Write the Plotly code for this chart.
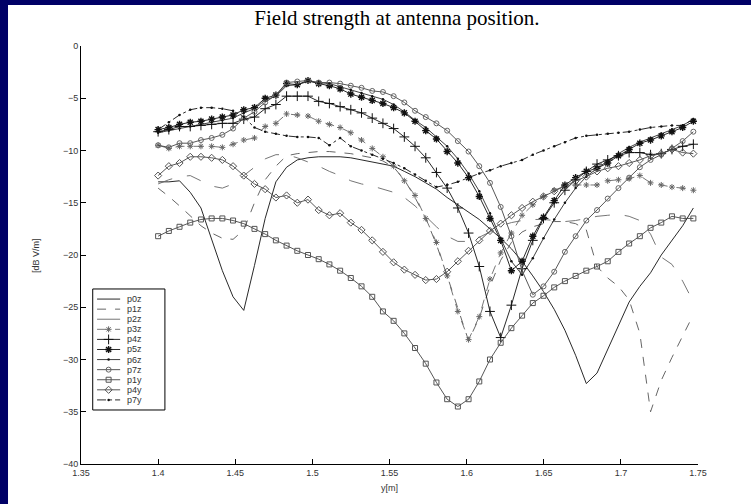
import numpy as np
import plotly.graph_objects as go

# x grid (51 samples of antenna position y[m])
x = np.linspace(1.4, 1.747, 51)

p0z = [-13.0, -13.0, -12.9, -14.0, -15.5, -18.5, -21.5, -24.0, -25.3, -21.0,
       -16.5, -13.0, -11.6, -10.9, -10.7, -10.6, -10.6, -10.6, -10.7, -10.9,
       -11.1, -11.3, -11.5, -12.0, -12.5, -13.1, -13.7, -14.5, -15.2, -15.9,
       -16.6, -17.5, -18.4, -19.4, -20.6, -22.0, -23.5, -25.2, -27.2, -29.6,
       -32.3, -31.3, -29.0, -26.7, -24.5, -23.0, -21.7, -20.0, -18.6, -17.2, -15.5]
p1z = [-13.6, -14.4, -15.3, -16.3, -17.2, -17.9, -18.4, -18.5, -17.6, -15.0,
       -12.8, -11.5, -10.5, -10.3, -10.2, -10.1, -10.1, -10.2, -10.3, -10.5,
       -10.7, -11.0, -11.6, -12.8, -14.5, -16.5, -19.0, -22.0, -25.0, -28.2,
       -26.0, -23.0, -20.5, -18.8, -17.8, -17.3, -17.0, -16.8, -16.8, -17.0,
       -17.6, -21.1, -22.2, -23.0, -24.3, -27.5, -35.0, -32.0, -29.8, -27.8, -25.7]
p2z = [-13.2, -12.8, -12.5, -12.4, -12.9, -13.4, -13.6, -13.2, -12.4, -11.6,
       -10.8, -10.4, -10.4, -10.7, -11.1, -11.5, -12.0, -12.4, -12.9, -13.2,
       -13.4, -13.7, -14.0, -14.5, -15.3, -16.3, -17.3, -18.2, -18.7, -18.7,
       -18.3, -17.8, -17.2, -16.9, -16.7, -16.6, -16.6, -16.7, -16.8, -16.7,
       -16.5, -16.3, -16.2, -16.1, -16.3, -16.7, -18.0, -20.2, -20.9, -22.5, -24.5]
p3z = [-9.5, -9.8, -9.6, -9.6, -9.6, -9.6, -9.7, -9.4, -9.0, -8.8,
       -7.7, -7.4, -6.5, -6.6, -6.7, -7.2, -7.5, -7.8, -8.3, -9.0,
       -9.8, -10.6, -11.5, -12.9, -14.3, -16.5, -18.8, -22.0, -25.4, -28.1,
       -25.9, -22.3, -19.8, -17.9, -16.2, -15.2, -14.4, -13.8, -13.4, -13.3,
       -13.3, -13.3, -12.9, -12.8, -12.7, -12.4, -13.1, -13.3, -13.5, -13.6, -13.8]
p4z = [-8.2, -8.0, -7.7, -7.7, -7.6, -7.5, -7.4, -7.4, -7.0, -6.8,
       -6.0, -5.6, -4.8, -4.8, -4.8, -5.3, -5.5, -5.8, -6.1, -6.4,
       -6.9, -7.4, -7.9, -8.7, -9.6, -10.7, -12.1, -13.6, -15.5, -17.9,
       -21.1, -25.4, -27.9, -24.8, -21.3, -18.6, -16.5, -15.0, -13.8, -12.8,
       -12.0, -11.3, -10.9, -10.5, -10.2, -10.2, -10.4, -10.3, -9.9, -9.6, -9.4]
p5z = [-8.0, -7.8, -7.5, -7.3, -7.2, -7.0, -6.8, -6.6, -6.1, -5.9,
       -5.0, -4.7, -3.6, -3.7, -3.3, -3.6, -3.8, -4.1, -4.6, -4.9,
       -5.2, -5.5, -5.9, -6.4, -7.2, -8.1, -8.9, -10.1, -11.2, -12.6,
       -14.4, -16.5, -18.6, -21.5, -20.6, -18.2, -16.4, -14.8, -13.3, -12.6,
       -12.0, -11.7, -11.2, -10.5, -9.9, -9.3, -9.0, -8.6, -8.2, -7.8, -7.2]
p6z = [-8.3, -8.1, -7.9, -7.7, -7.5, -7.3, -7.1, -6.9, -6.4, -6.0,
       -5.2, -4.8, -3.8, -3.7, -3.4, -3.5, -3.6, -3.9, -4.2, -4.5,
       -4.8, -5.1, -5.6, -6.3, -7.1, -7.8, -8.7, -9.6, -10.8, -12.2,
       -13.9, -16.0, -18.4, -20.6, -21.9, -20.3, -18.4, -16.6, -15.0, -13.6,
       -12.5, -11.7, -11.0, -10.3, -9.7, -9.2, -8.8, -8.4, -8.0, -7.6, -7.0]
p7z = [-9.5, -9.7, -9.3, -9.3, -9.0, -8.8, -8.5, -7.9, -6.9, -6.3,
       -5.4, -4.7, -3.5, -3.4, -3.3, -3.5, -3.5, -3.6, -3.8, -4.0,
       -4.3, -4.4, -4.8, -5.4, -6.2, -6.8, -7.4, -8.1, -9.1, -10.1,
       -11.5, -13.1, -15.4, -18.2, -21.5, -23.8, -23.0, -21.6, -19.7, -18.2,
       -16.7, -15.7, -14.6, -13.6, -12.6, -11.6, -10.9, -10.4, -9.8, -9.1, -8.2]
p1y = [-18.2, -17.7, -17.3, -16.9, -16.6, -16.5, -16.5, -16.7, -17.0, -17.5,
       -18.0, -18.6, -19.1, -19.6, -20.0, -20.4, -20.9, -21.5, -22.2, -23.0,
       -24.0, -25.4, -26.3, -27.5, -28.9, -30.4, -32.2, -33.8, -34.5, -33.8,
       -32.1, -30.0, -28.4, -27.0, -25.8, -24.6, -23.9, -23.1, -22.5, -22.0,
       -21.5, -21.1, -20.6, -19.7, -18.9, -18.2, -17.4, -16.9, -16.3, -16.5, -16.5]
p4y = [-12.4, -11.5, -11.2, -10.6, -10.6, -10.7, -10.9, -11.5, -12.4, -13.2,
       -13.7, -14.5, -14.3, -15.0, -14.7, -15.7, -16.2, -16.0, -16.9, -17.6,
       -18.6, -19.7, -20.7, -21.4, -21.9, -22.4, -22.3, -21.6, -20.6, -19.6,
       -18.6, -17.7, -17.0, -16.2, -15.5, -14.9, -14.4, -13.9, -13.4, -12.9,
       -12.5, -12.0, -11.7, -11.5, -11.2, -10.9, -10.5, -10.3, -9.9, -10.2, -10.3]
p7y = [-8.0, -7.3, -6.6, -6.1, -5.9, -5.9, -6.0, -6.2, -6.8, -7.8,
       -8.2, -8.4, -8.6, -8.7, -8.7, -8.8, -9.5, -8.8, -9.6, -10.0,
       -10.4, -10.8, -11.2, -11.7, -12.3, -12.9, -13.5, -13.3, -13.0, -12.6,
       -12.2, -11.9, -11.5, -11.2, -10.9, -10.4, -10.0, -9.6, -9.2, -8.8,
       -8.6, -8.5, -8.4, -8.3, -8.2, -8.0, -7.8, -7.7, -7.6, -7.6, -7.0]

names = ["p0z", "p1z", "p2z", "p3z", "p4z", "p5z", "p6z", "p7z", "p1y", "p4y", "p7y"]
values = [p0z, p1z, p2z, p3z, p4z, p5z, p6z, p7z, p1y, p4y, p7y]

# style per series: (line color, dash, width, marker symbol, marker size, marker color, marker line width)
styles = {
    "p0z": ("#111111", "solid", 0.9, None, 0, None, 0),
    "p1z": ("#555555", "dash", 0.9, None, 0, None, 0),
    "p2z": ("#666666", "longdash", 0.9, None, 0, None, 0),
    "p3z": ("#666666", "dash", 0.9, "asterisk-open", 5, "#666666", 1.0),
    "p4z": ("#111111", "solid", 0.9, "cross-thin-open", 7, "#111111", 1.0),
    "p5z": ("#111111", "solid", 0.9, "asterisk-open", 6, "#111111", 1.4),
    "p6z": ("#111111", "solid", 0.8, "circle", 2.5, "#111111", 0),
    "p7z": ("#444444", "solid", 0.9, "circle-open", 5, "#666666", 1.0),
    "p1y": ("#444444", "solid", 0.9, "square-open", 5, "#555555", 1.0),
    "p4y": ("#444444", "solid", 0.9, "diamond-open", 5.5, "#555555", 1.0),
    "p7y": ("#111111", "dashdot", 0.9, "circle", 2.5, "#111111", 0),
}

fig = go.Figure()
for name, vals in zip(names, values):
    lc, dash, lw, sym, ms, mc, mlw = styles[name]
    kw = dict(x=x, y=vals, name=name, showlegend=False,
              line=dict(color=lc, dash=dash, width=lw))
    if sym:
        kw["mode"] = "lines+markers"
        kw["marker"] = dict(symbol=sym, size=ms, color=mc, line=dict(color=mc, width=mlw))
    else:
        kw["mode"] = "lines"
    fig.add_trace(go.Scatter(**kw))

# custom compact legend (Matlab style) on an overlay axis pair
for k, name in enumerate(names):
    lc, dash, lw, sym, ms, mc, mlw = styles[name]
    fig.add_trace(go.Scatter(x=[0.06, 0.38], y=[k, k], mode="lines", xaxis="x2", yaxis="y2",
                             showlegend=False, hoverinfo="skip",
                             line=dict(color=lc, dash="solid" if dash == "longdash" else dash, width=lw)))
    if sym:
        fig.add_trace(go.Scatter(x=[0.22], y=[k], mode="markers", xaxis="x2", yaxis="y2",
                                 showlegend=False, hoverinfo="skip",
                                 marker=dict(symbol=sym, size=ms, color=mc, line=dict(color=mc, width=mlw))))
    fig.add_annotation(x=0.45, y=k, xref="x2", yref="y2", text=name, showarrow=False,
                       xanchor="left", yanchor="middle",
                       font=dict(family="Liberation Sans, Arial", size=9, color="#333333"))

leg_x0, leg_x1 = 0.019, 0.136
leg_y0, leg_y1 = 0.1292, 0.4187

fig.update_layout(
    width=751, height=504,
    margin=dict(l=81, r=53, t=46, b=40),
    paper_bgcolor="white", plot_bgcolor="white",
    showlegend=False,
    title=dict(text="Field strength at antenna position.", x=0.5285, xanchor="center",
               y=0.964, yanchor="middle",
               font=dict(family="Liberation Serif, Times New Roman, serif", size=21, color="black")),
    xaxis=dict(range=[1.35, 1.75], tickvals=[1.35, 1.4, 1.45, 1.5, 1.55, 1.6, 1.65, 1.7, 1.75],
               ticktext=["1.35", "1.4", "1.45", "1.5", "1.55", "1.6", "1.65", "1.7", "1.75"],
               showgrid=False, zeroline=False, showline=True, linecolor="black", linewidth=1,
               ticks="inside", ticklen=5, tickcolor="black",
               tickfont=dict(family="Liberation Sans, Arial", size=9, color="#333333")),
    yaxis=dict(range=[-40, 0], tickvals=[0, -5, -10, -15, -20, -25, -30, -35, -40],
               showgrid=False, zeroline=False, showline=True, linecolor="black", linewidth=1,
               ticks="inside", ticklen=5, tickcolor="black",
               tickfont=dict(family="Liberation Sans, Arial", size=9, color="#333333")),
    xaxis2=dict(domain=[leg_x0, leg_x1], range=[0, 1], anchor="y2", visible=False, fixedrange=True),
    yaxis2=dict(domain=[leg_y0, leg_y1], range=[11, -1], anchor="x2", visible=False, fixedrange=True),
    shapes=[
        dict(type="rect", xref="paper", yref="paper", x0=leg_x0, x1=leg_x1, y0=leg_y0, y1=leg_y1,
             line=dict(color="black", width=1), fillcolor="rgba(255,255,255,0)", layer="above"),
        # navy frame strips (slide background) at top and left
        dict(type="rect", xref="paper", yref="paper", x0=-0.1313, x1=1.086, y0=1.098, y1=1.115,
             line=dict(width=0), fillcolor="#000066"),
        dict(type="rect", xref="paper", yref="paper", x0=-0.1313, x1=-0.1183, y0=-0.1, y1=1.115,
             line=dict(width=0), fillcolor="#000066"),
    ],
    annotations=list(fig.layout.annotations) + [
        dict(text="y[m]", x=0.5, y=-0.058, xref="paper", yref="paper", showarrow=False,
             xanchor="center", yanchor="middle",
             font=dict(family="Liberation Sans, Arial", size=9, color="#333333")),
        dict(text="[dB V/m]", x=-0.073, y=0.5, xref="paper", yref="paper", showarrow=False,
             textangle=-90, xanchor="center", yanchor="middle",
             font=dict(family="Liberation Sans, Arial", size=9, color="#333333")),
    ],
)

fig.write_html("out.html")
